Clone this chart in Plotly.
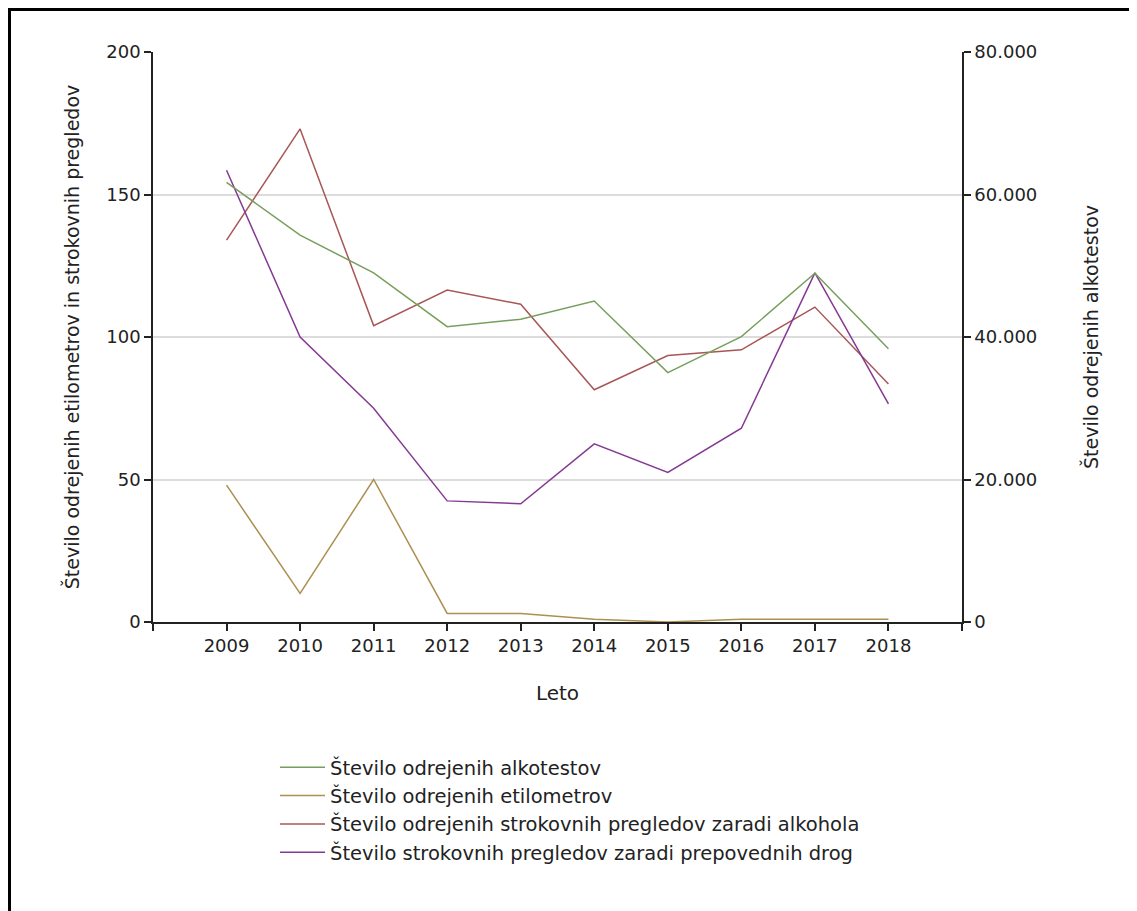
import plotly.graph_objects as go

years = [2009, 2010, 2011, 2012, 2013, 2014, 2015, 2016, 2017, 2018]
alkotesti = [61700, 54300, 49000, 41450, 42500, 45050, 35000, 40050, 48950, 38350]
etilometri = [48, 10, 50, 3, 3, 1, 0, 1, 1, 1]
pregledi_alkohol = [134, 173, 104, 116.5, 111.5, 81.5, 93.5, 95.5, 110.5, 83.5]
pregledi_droge = [158.5, 100, 75, 42.5, 41.5, 62.5, 52.5, 68, 122.5, 76.5]

names = [
    "Število odrejenih alkotestov",
    "Število odrejenih etilometrov",
    "Število odrejenih strokovnih pregledov zaradi alkohola",
    "Število strokovnih pregledov zaradi prepovednih drog",
]
x_ticks = [2008] + years + [2019]
x_ticktext = [""] + [str(y) for y in years] + [""]
left_ticks = [0, 50, 100, 150, 200]
right_ticks = [0, 20000, 40000, 60000, 80000]
right_ticktext = ["0", "20.000", "40.000", "60.000", "80.000"]

colors = ["#789e5e", "#ad9050", "#a85656", "#843a92"]
FONT = "DejaVu Sans"
TXT = "#222222"

L, T, PW, PH = 145, 44, 809, 570
W, H = 1137, 911

fig = go.Figure()
fig.add_trace(go.Scatter(x=years, y=alkotesti, name=names[0], mode="lines",
                         line=dict(color=colors[0], width=1.5), yaxis="y2"))
fig.add_trace(go.Scatter(x=years, y=etilometri, name=names[1], mode="lines",
                         line=dict(color=colors[1], width=1.5)))
fig.add_trace(go.Scatter(x=years, y=pregledi_alkohol, name=names[2], mode="lines",
                         line=dict(color=colors[2], width=1.5)))
fig.add_trace(go.Scatter(x=years, y=pregledi_droge, name=names[3], mode="lines",
                         line=dict(color=colors[3], width=1.5)))

axis_common = dict(showline=True, linecolor=TXT, linewidth=1.5, ticks="outside",
                   ticklen=7, tickcolor=TXT, tickwidth=1.5, zeroline=False,
                   tickfont=dict(size=18, color=TXT))

fig.update_layout(
    width=W, height=H,
    margin=dict(l=L, r=W - L - PW, t=T, b=H - T - PH),
    paper_bgcolor="white", plot_bgcolor="white",
    font=dict(family=FONT, size=18, color=TXT),
    showlegend=True,
    legend=dict(x=(267 - L) / PW, xanchor="left", y=-(740 - T - PH) / PH, yanchor="top",
                font=dict(family=FONT, size=19.5, color=TXT),
                traceorder="normal", itemwidth=45, bgcolor="rgba(0,0,0,0)"),
    xaxis=dict(range=[2008, 2019], tickvals=x_ticks, ticktext=x_ticktext,
               showgrid=False,
               title=dict(text="Leto", standoff=31, font=dict(size=20)),
               **axis_common),
    yaxis=dict(range=[0, 200], tickvals=left_ticks, showgrid=True,
               gridcolor="#dcdcdc", gridwidth=1.5,
               title=dict(text="Število odrejenih etilometrov in strokovnih pregledov",
                          standoff=22, font=dict(size=19)),
               **axis_common),
    yaxis2=dict(range=[0, 80000], tickvals=right_ticks, ticktext=right_ticktext,
                overlaying="y", side="right", showgrid=False,
                title=dict(text="Število odrejenih alkotestov", standoff=48,
                           font=dict(size=19)),
                **axis_common),
    shapes=[dict(type="rect", xref="paper", yref="paper",
                 x0=(1.5 - L) / PW, x1=(W + 10 - L) / PW,
                 y0=-(H + 10 - T - PH) / PH, y1=(T + PH - 1.5) / PH,
                 line=dict(color="black", width=3), fillcolor="rgba(0,0,0,0)",
                 layer="below")],
)

fig.write_html("out.html")
